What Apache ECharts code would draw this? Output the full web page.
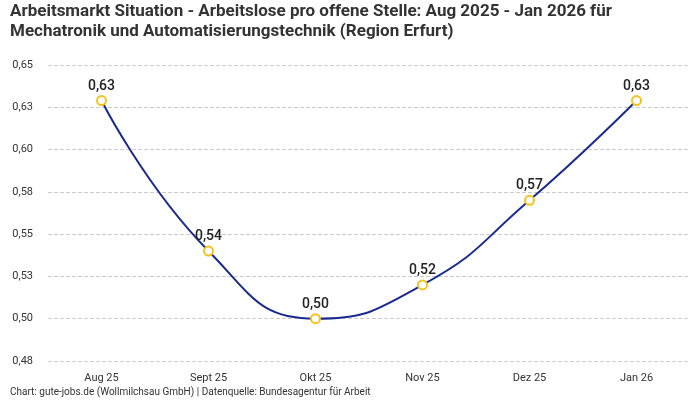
<!DOCTYPE html>
<html><head><meta charset="utf-8">
<script src="https://cdn.jsdelivr.net/npm/echarts@6/dist/echarts.min.js"></script>
<style>html,body{margin:0;padding:0;background:#fff}#c{width:700px;height:400px}</style>
</head><body><div id="c"></div>
<script>
const categories = ['Aug 25','Sept 25','Okt 25','Nov 25','Dez 25','Jan 26'];
const values = [0.629, 0.540, 0.500, 0.520, 0.570, 0.629];
const titleLines = ['Arbeitsmarkt Situation - Arbeitslose pro offene Stelle: Aug 2025 - Jan 2026 für','Mechatronik und Automatisierungstechnik (Region Erfurt)'];
const footer = 'Chart: gute-jobs.de (Wollmilchsau GmbH) | Datenquelle: Bundesagentur für Arbeit';
const fmt = v => (Math.round(v * 100 + 1e-6) / 100).toFixed(2).replace('.', ',');
const chart = echarts.init(document.getElementById('c'));
chart.setOption({
  animation: false,
  textStyle: {fontFamily: 'Roboto'},
  title: [{
    text: titleLines.join('\n'), left: 10, top: 2, padding: 0,
    textStyle: {fontSize: 17, fontWeight: 'bold', color: '#333', lineHeight: 20, fontFamily: 'Roboto'}
  },{
    text: footer, left: 10, top: 387, padding: 0,
    textStyle: {fontSize: 10, fontWeight: 'normal', color: '#333', fontFamily: 'Roboto'}
  }],
  grid: {left: 48, right: 10, top: 65, bottom: 39, containLabel: false},
  xAxis: {
    type: 'category', data: categories, boundaryGap: true,
    axisLine: {show: false}, axisTick: {show: false},
    axisLabel: {color: '#333', fontSize: 11, margin: 12}
  },
  yAxis: {
    type: 'value', min: 0.475, max: 0.65, interval: 0.025,
    axisLine: {show: false}, axisTick: {show: false},
    axisLabel: {color: '#333', fontSize: 11, formatter: fmt, margin: 15, align: 'right'},
    splitLine: {lineStyle: {type: 'dashed', color: '#ccc'}}
  },
  series: [{
    type: 'line', data: values, smooth: true,
    lineStyle: {color: '#1a2a8f', width: 2},
    itemStyle: {color: '#fff', borderColor: '#f5c21b', borderWidth: 2},
    symbol: 'circle', symbolSize: 9, showAllSymbol: true,
    label: {show: true, position: 'top', formatter: p => fmt(p.value), fontSize: 14, fontWeight: 500, color: '#222', distance: 2}
  }]
});
</script></body></html>
